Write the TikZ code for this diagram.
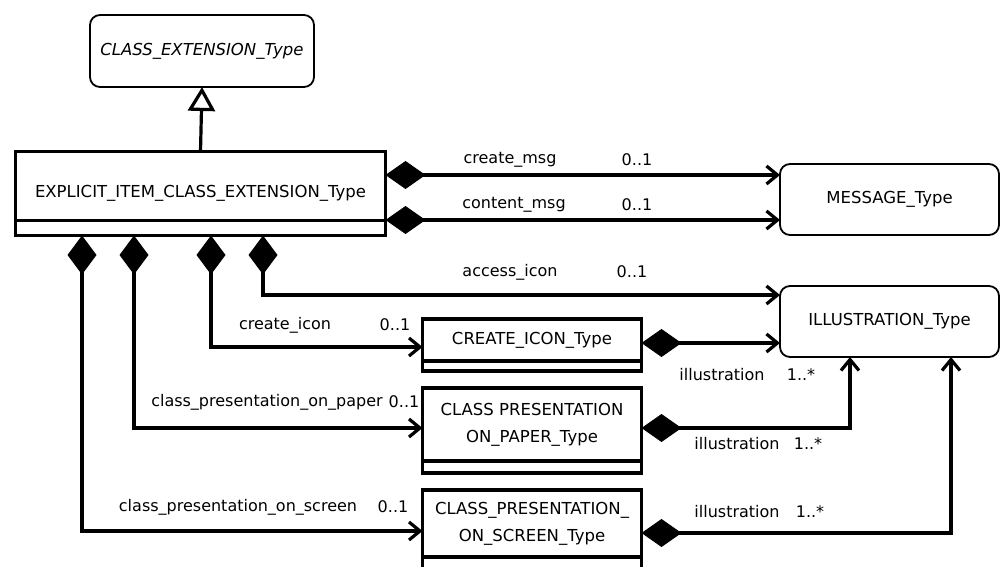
\documentclass[tikz,border=0pt]{standalone}
\usepackage{fontspec}
\setmainfont{DejaVu Sans}
\usetikzlibrary{arrows.meta}
\begin{document}
\begin{tikzpicture}[x=1pt,y=-1pt,
  every node/.style={font=\fontsize{16.5}{27}\selectfont, inner sep=0pt, outer sep=0pt},
  rbox/.style={draw, line width=1.8pt, rounded corners=10pt},
  cbox/.style={draw, line width=3.3pt, minimum width=219pt},
  lbl/.style={font=\fontsize{16}{19}\selectfont},
  compR/.style={line width=3.2pt, {Diamond[length=40pt,width=28pt,line width=1pt]}-{Straight Barb[length=11pt,width=18pt]}},
  compB/.style={line width=3.2pt, {Diamond[length=39pt,width=29pt,line width=1pt]}-{Straight Barb[length=11pt,width=18pt]}},
  gen/.style={line width=3.2pt, -{Triangle[open,length=24pt,width=27pt,fill=white]}}
]
\useasboundingbox (0,0) rectangle (1001,567);
\clip (0,0) rectangle (1001,567);

% classes
\node[rbox, minimum width=224pt, minimum height=72pt] (ext) at (202,51) {\itshape CLASS\_EXTENSION\_Type};
\node[draw, line width=3.3pt, minimum width=370pt, minimum height=84pt] (expl) at (200.5,193.5) {EXPLICIT\_ITEM\_CLASS\_EXTENSION\_Type};
\draw[line width=3.3pt] ([yshift=15pt]expl.south west) -- ([yshift=15pt]expl.south east);

\node[rbox, minimum width=219pt, minimum height=71pt] (msg) at (889.5,199.5) {MESSAGE\_Type};
\node[rbox, minimum width=219pt, minimum height=71pt] (ill) at (889.5,321.5) {ILLUSTRATION\_Type};

\node[cbox, minimum height=42pt] (ci) at (532,340) {CREATE\_ICON\_Type};
\node[cbox, minimum height=10pt, anchor=north] (cia) at (ci.south) {};

\node[cbox, minimum height=73pt, align=center] (pp) at (532,424.5) {CLASS PRESENTATION\\ON\_PAPER\_Type};
\node[cbox, minimum height=12pt, anchor=north] (ppa) at (pp.south) {};

\node[cbox, minimum height=67pt, align=center] (ps) at (532,523.5) {CLASS\_PRESENTATION\_\\ON\_SCREEN\_Type};
\node[cbox, minimum height=22pt, anchor=north] (psa) at (ps.south) {};

% generalization
\draw[gen] (expl.north) -- (ext.south);

% compositions to MESSAGE_Type
\draw[compR] (expl.east |- 0,175) -- (msg.west |- 0,175);
\draw[compR] (expl.east |- 0,220) -- (msg.west |- 0,220);

% compositions from bottom of EXPLICIT box
\draw[compB] (expl.south -| 263,0) |- (ill.west |- 0,295);
\draw[compB] (expl.south -| 211,0) |- (ci.west |- 0,347);
\draw[compB] (expl.south -| 134,0) |- (pp.west |- 0,428);
\draw[compB] (expl.south -| 82,0) |- (ps.west |- 0,531);

% illustrations
\draw[compR] (ci.east |- 0,343) -- (ill.west |- 0,343);
\draw[compR] (pp.east |- 0,428) -| (ill.south -| 850,0);
\draw[compR] (ps.east |- 0,533) -| (ill.south -| 951,0);

% labels
\node[lbl] (l1) at (510,160) {create\_msg};
\node[lbl] (m1) at (637,160) {0..1};
\node[lbl] (l2) at (514,205) {content\_msg};
\node[lbl] (m2) at (637,205) {0..1};
\node[lbl] (l3) at (510,272) {access\_icon};
\node[lbl] (m3) at (632,272) {0..1};
\node[lbl] (l4) at (285,325) {create\_icon};
\node[lbl] (m4) at (395,325) {0..1};
\node[lbl] (l5) at (267,402) {class\_presentation\_on\_paper};
\node[lbl] (m5) at (404,402) {0..1};
\node[lbl] (l6) at (238,507) {class\_presentation\_on\_screen};
\node[lbl] (m6) at (393,507) {0..1};
\node[lbl] (l7) at (722,375) {illustration};
\node[lbl] (m7) at (801,375) {1..*};
\node[lbl] (l8) at (737,444) {illustration};
\node[lbl] (m8) at (808,444) {1..*};
\node[lbl] (l9) at (737,512) {illustration};
\node[lbl] (m9) at (810,512) {1..*};
\end{tikzpicture}
\end{document}
